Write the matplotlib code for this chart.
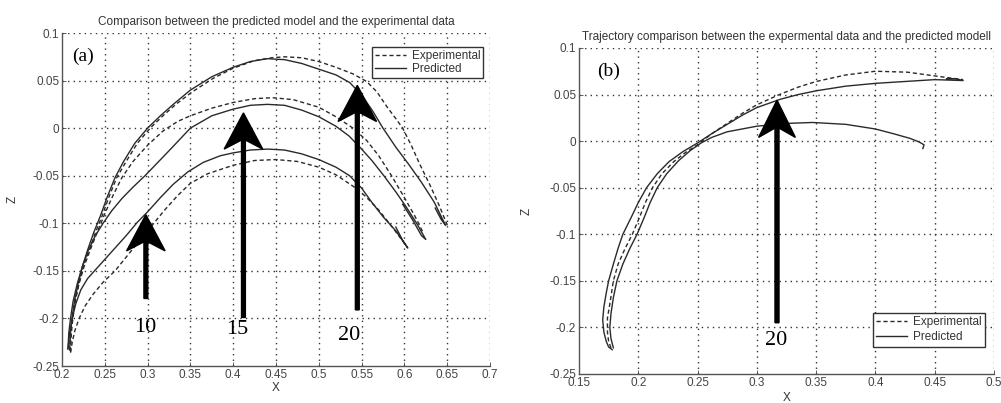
import matplotlib
matplotlib.use("Agg")
import matplotlib.pyplot as plt

plt.rcParams['font.family'] = ['Liberation Sans', 'DejaVu Sans']

# ---------------- Panel (a) data ----------------
a_xticks = [0.2, 0.25, 0.3, 0.35, 0.4, 0.45, 0.5, 0.55, 0.6, 0.65, 0.7]
a_xticklabels = ["0.2", "0.25", "0.3", "0.35", "0.4", "0.45", "0.5", "0.55", "0.6", "0.65", "0.7"]
a_yticks = [0.1, 0.05, 0, -0.05, -0.1, -0.15, -0.2, -0.25]
a_yticklabels = ["0.1", "0.05", "0", "-0.05", "-0.1", "-0.15", "-0.2", "-0.25"]

pred20_x = [0.209, 0.210, 0.212, 0.215, 0.219, 0.224, 0.230, 0.237, 0.245, 0.253, 0.262, 0.272,
            0.285, 0.300, 0.315, 0.330, 0.350, 0.375, 0.400, 0.420, 0.440, 0.460, 0.480, 0.500,
            0.520, 0.536, 0.550, 0.563, 0.575, 0.590, 0.605, 0.620, 0.635, 0.648, 0.643, 0.636]
pred20_z = [-0.232, -0.215, -0.198, -0.180, -0.163, -0.145, -0.128, -0.110, -0.092, -0.072, -0.052, -0.035,
            -0.016, 0.000, 0.013, 0.025, 0.040, 0.054, 0.064, 0.070, 0.073, 0.072, 0.068, 0.062,
            0.056, 0.048, 0.035, 0.018, 0.000, -0.020, -0.038, -0.057, -0.078, -0.102, -0.096, -0.084]
exp20_x = [0.210, 0.211, 0.213, 0.216, 0.220, 0.225, 0.232, 0.239, 0.247, 0.255, 0.264, 0.275,
           0.288, 0.303, 0.318, 0.333, 0.352, 0.376, 0.400, 0.425, 0.445, 0.460, 0.480, 0.500,
           0.520, 0.540, 0.556, 0.568, 0.580, 0.590, 0.598, 0.608, 0.618, 0.630, 0.641, 0.651]
exp20_z = [-0.235, -0.215, -0.198, -0.180, -0.163, -0.145, -0.128, -0.110, -0.092, -0.072, -0.052, -0.035,
           -0.016, 0.000, 0.013, 0.025, 0.038, 0.052, 0.063, 0.071, 0.074, 0.075, 0.074, 0.070,
           0.064, 0.057, 0.049, 0.038, 0.022, 0.010, 0.000, -0.018, -0.038, -0.060, -0.082, -0.104]

pred15_x = [0.207, 0.208, 0.210, 0.213, 0.218, 0.224, 0.231, 0.239, 0.248, 0.258, 0.270, 0.283,
            0.297, 0.312, 0.328, 0.350, 0.375, 0.400, 0.420, 0.440, 0.460, 0.480, 0.500, 0.520,
            0.535, 0.548, 0.562, 0.576, 0.590, 0.603, 0.615, 0.625, 0.620, 0.610, 0.598]
pred15_z = [-0.232, -0.215, -0.200, -0.182, -0.163, -0.145, -0.128, -0.113, -0.100, -0.087, -0.074, -0.062,
            -0.050, -0.036, -0.021, 0.000, 0.013, 0.020, 0.024, 0.025, 0.024, 0.019, 0.012, 0.002,
            -0.008, -0.020, -0.034, -0.050, -0.067, -0.084, -0.101, -0.117, -0.113, -0.097, -0.080]
exp15_x = [0.209, 0.210, 0.212, 0.215, 0.220, 0.226, 0.233, 0.240, 0.250, 0.260, 0.270, 0.283,
           0.300, 0.318, 0.335, 0.350, 0.375, 0.400, 0.425, 0.446, 0.470, 0.500, 0.520, 0.540,
           0.556, 0.570, 0.585, 0.600, 0.612, 0.622]
exp15_z = [-0.234, -0.215, -0.200, -0.182, -0.163, -0.145, -0.128, -0.112, -0.090, -0.070, -0.052, -0.035,
           -0.018, -0.003, 0.007, 0.013, 0.021, 0.027, 0.031, 0.032, 0.030, 0.022, 0.012, 0.000,
           -0.013, -0.029, -0.050, -0.073, -0.092, -0.110]

pred10_x = [0.207, 0.209, 0.212, 0.216, 0.222, 0.230, 0.240, 0.250, 0.262, 0.275, 0.288, 0.300,
            0.315, 0.330, 0.347, 0.365, 0.385, 0.400, 0.420, 0.440, 0.460, 0.480, 0.500, 0.520,
            0.536, 0.550, 0.562, 0.575, 0.590, 0.604, 0.598, 0.590]
pred10_z = [-0.232, -0.215, -0.200, -0.185, -0.170, -0.158, -0.148, -0.138, -0.126, -0.113, -0.099, -0.088,
            -0.073, -0.059, -0.046, -0.036, -0.029, -0.026, -0.023, -0.022, -0.023, -0.027, -0.033, -0.041,
            -0.050, -0.063, -0.078, -0.093, -0.108, -0.126, -0.118, -0.104]
exp10_x = [0.210, 0.212, 0.215, 0.220, 0.227, 0.236, 0.248, 0.262, 0.280, 0.300, 0.320, 0.335,
           0.350, 0.370, 0.400, 0.425, 0.450, 0.475, 0.500, 0.520, 0.540, 0.555, 0.570, 0.585, 0.600]
exp10_z = [-0.236, -0.225, -0.213, -0.200, -0.187, -0.175, -0.162, -0.150, -0.130, -0.108, -0.086, -0.071,
           -0.058, -0.048, -0.039, -0.034, -0.033, -0.035, -0.041, -0.049, -0.061, -0.072, -0.086, -0.103, -0.121]

a_arrow_x = [0.298, 0.412, 0.545]
a_arrow_bottom = [-0.179, -0.199, -0.191]
a_arrow_tip = [-0.091, 0.016, 0.045]
a_arrow_labels = ["10", "15", "20"]
a_label_x = [0.297, 0.405, 0.535]
a_label_z = [-0.210, -0.212, -0.218]

# ---------------- Panel (b) data ----------------
b_xticks = [0.15, 0.2, 0.25, 0.3, 0.35, 0.4, 0.45, 0.5]
b_xticklabels = ["0.15", "0.2", "0.25", "0.3", "0.35", "0.4", "0.45", "0.5"]
b_yticks = a_yticks
b_yticklabels = a_yticklabels

bpred1_x = [0.178, 0.175, 0.173, 0.171, 0.170, 0.171, 0.173, 0.175, 0.179, 0.183, 0.187, 0.194,
            0.200, 0.207, 0.216, 0.226, 0.238, 0.250, 0.262, 0.275, 0.288, 0.300, 0.320, 0.335,
            0.350, 0.375, 0.400, 0.425, 0.450, 0.474, 0.468, 0.460]
bpred1_z = [-0.224, -0.221, -0.215, -0.205, -0.192, -0.178, -0.163, -0.150, -0.132, -0.115, -0.100, -0.082,
            -0.066, -0.050, -0.035, -0.022, -0.011, -0.002, 0.008, 0.018, 0.028, 0.036, 0.045, 0.050,
            0.054, 0.059, 0.062, 0.064, 0.066, 0.065, 0.067, 0.067]
bexp_x = [0.177, 0.175, 0.174, 0.174, 0.176, 0.179, 0.183, 0.189, 0.195, 0.201, 0.206, 0.212,
          0.220, 0.230, 0.240, 0.250, 0.262, 0.275, 0.288, 0.300, 0.319, 0.335, 0.350, 0.375,
          0.400, 0.427, 0.450, 0.474]
bexp_z = [-0.222, -0.215, -0.205, -0.190, -0.175, -0.150, -0.132, -0.115, -0.100, -0.082, -0.066, -0.050,
          -0.035, -0.022, -0.012, -0.004, 0.008, 0.019, 0.030, 0.039, 0.050, 0.058, 0.064, 0.071,
          0.075, 0.074, 0.070, 0.066]
bpred2_x = [0.179, 0.177, 0.176, 0.177, 0.179, 0.182, 0.187, 0.193, 0.199, 0.205, 0.210, 0.216,
            0.224, 0.234, 0.244, 0.253, 0.262, 0.275, 0.300, 0.325, 0.347, 0.375, 0.400, 0.415,
            0.429, 0.437, 0.441, 0.440]
bpred2_z = [-0.222, -0.212, -0.200, -0.185, -0.168, -0.150, -0.132, -0.115, -0.100, -0.082, -0.066, -0.050,
            -0.035, -0.021, -0.010, -0.002, 0.004, 0.010, 0.016, 0.019, 0.020, 0.018, 0.013, 0.008,
            0.003, -0.001, -0.004, -0.008]

b_arrow_x = [0.317]
b_arrow_bottom = [-0.195]
b_arrow_tip = [0.044]
b_arrow_labels = ["20"]
b_label_x = [0.316]
b_label_z = [-0.214]

# ---------------- Drawing ----------------
fig = plt.figure(figsize=(10.01, 4.03), dpi=100)
axa = fig.add_axes([0.0619, 0.0918, 0.4276, 0.8263])
axb = fig.add_axes([0.5784, 0.072, 0.4146, 0.809])

line_col = '#2a2a2a'
dash = (0, (3.0, 2.0))
grid_style = (0, (1.0, 3.0))
tick_col = '#444444'


def style_axes(ax, xt, xtl, yt, ytl, xlim):
    ax.set_xlim(*xlim)
    ax.set_ylim(-0.25, 0.1)
    ax.set_xticks(xt)
    ax.set_xticklabels(xtl)
    ax.set_yticks(yt)
    ax.set_yticklabels(ytl)
    ax.tick_params(direction='in', length=3, width=0.6, labelsize=8.5, colors=tick_col,
                   pad=2, top=False, right=False)
    for s in ['top', 'right']:
        ax.spines[s].set_visible(False)
    for s in ['left', 'bottom']:
        ax.spines[s].set_color('#555555')
        ax.spines[s].set_linewidth(1.0)
    for v in xt[1:]:
        ax.axvline(v, color='#333333', lw=1.0, ls=grid_style, zorder=0)
    for v in yt:
        if v != -0.25:
            ax.axhline(v, color='#333333', lw=1.0, ls=grid_style, zorder=0)


style_axes(axa, a_xticks, a_xticklabels, a_yticks, a_yticklabels, (0.2, 0.7))
style_axes(axb, b_xticks, b_xticklabels, b_yticks, b_yticklabels, (0.15, 0.5))

# panel (a) curves
axa.plot(exp20_x, exp20_z, color=line_col, lw=1.0, ls=dash, label='Experimental')
axa.plot(pred20_x, pred20_z, color=line_col, lw=1.0, label='Predicted')
axa.plot(exp15_x, exp15_z, color=line_col, lw=1.0, ls=dash)
axa.plot(pred15_x, pred15_z, color=line_col, lw=1.0)
axa.plot(exp10_x, exp10_z, color=line_col, lw=1.0, ls=dash)
axa.plot(pred10_x, pred10_z, color=line_col, lw=1.0)

for x, yb, yt_, lab, lx, lz in zip(a_arrow_x, a_arrow_bottom, a_arrow_tip, a_arrow_labels,
                                   a_label_x, a_label_z):
    axa.arrow(x, yb, 0, yt_ - yb, width=0.0045, head_width=0.045, head_length=0.038,
              length_includes_head=True, overhang=0.25, fc='black', ec='black', zorder=5)
    axa.text(lx, lz, lab, family='Liberation Serif', fontsize=16, ha='center', va='center')

axa.text(0.225, 0.075, '(a)', family='Liberation Serif', fontsize=14, ha='center', va='center')

leg = axa.legend(loc='upper right', bbox_to_anchor=(0.984, 0.958), fontsize=8.5,
                 fancybox=False, edgecolor='#333333', framealpha=1, handlelength=2.6,
                 borderpad=0.25, labelspacing=0.1, handletextpad=0.5, borderaxespad=0)
leg.get_frame().set_linewidth(1.0)
for t in leg.get_texts():
    t.set_color('#333333')

axa.set_title('Comparison between the predicted model and the experimental data',
              fontsize=8.5, color='#333333', pad=6)
axa.set_xlabel('X', fontsize=8.5, color='#333333', labelpad=1)
axa.set_ylabel('Z', fontsize=8.5, color='#333333', labelpad=10)

# panel (b) curves
axb.plot(bexp_x, bexp_z, color=line_col, lw=1.0, ls=dash, label='Experimental')
axb.plot(bpred1_x, bpred1_z, color=line_col, lw=1.0, label='Predicted')
axb.plot(bpred2_x, bpred2_z, color=line_col, lw=1.0)

for x, yb, yt_, lab, lx, lz in zip(b_arrow_x, b_arrow_bottom, b_arrow_tip, b_arrow_labels,
                                   b_label_x, b_label_z):
    axb.arrow(x, yb, 0, yt_ - yb, width=0.0034, head_width=0.031, head_length=0.040,
              length_includes_head=True, overhang=0.25, fc='black', ec='black', zorder=5)
    axb.text(lx, lz, lab, family='Liberation Serif', fontsize=16, ha='center', va='center')

axb.text(0.175, 0.075, '(b)', family='Liberation Serif', fontsize=14, ha='center', va='center')

legb = axb.legend(loc='lower right', bbox_to_anchor=(0.978, 0.083), fontsize=8.5,
                  fancybox=False, edgecolor='#333333', framealpha=1, handlelength=2.6,
                  borderpad=0.3, labelspacing=0.25, handletextpad=0.5, borderaxespad=0)
legb.get_frame().set_linewidth(1.0)
for t in legb.get_texts():
    t.set_color('#333333')

axb.set_title('Trajectory comparison between the expermental data and the predicted modell',
              fontsize=8.5, color='#333333', pad=6)
axb.set_xlabel('X', fontsize=8.5, color='#333333', labelpad=2)
axb.set_ylabel('Z', fontsize=8.5, color='#333333', labelpad=12)

fig.savefig('out.png', dpi=100)
